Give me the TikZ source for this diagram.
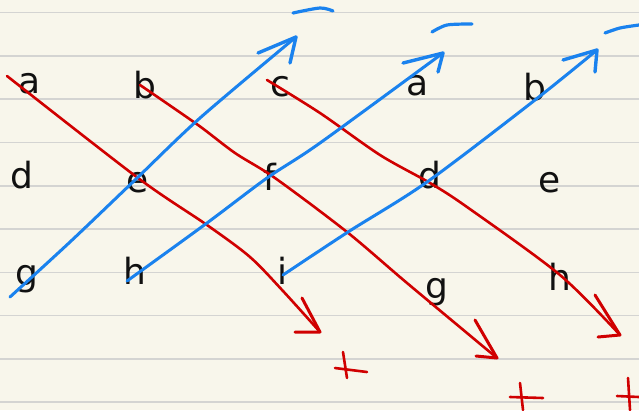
\documentclass[tikz,border=0pt]{standalone}
\usepackage{fontspec}
\setmainfont{DejaVu Sans}
\definecolor{paper}{HTML}{F8F6EB}
\definecolor{rulegray}{HTML}{D4D4D2}
\definecolor{penred}{HTML}{D00000}
\definecolor{penblue}{HTML}{1A82EE}
\definecolor{ink}{HTML}{111111}
\begin{document}
\begin{tikzpicture}[x=1pt,y=-1pt, line cap=round, line join=round,
  letter/.style={font=\fontsize{36}{36}\selectfont, text=ink, anchor=base, inner sep=0pt},
  redpen/.style={draw=penred, line width=2.6pt},
  bluepen/.style={draw=penblue, line width=3pt},
  ruleline/.style={draw=rulegray, line width=1.6pt}]
% paper
\fill[paper] (0,0) rectangle (639,410);
\useasboundingbox (0,0) rectangle (639,410);
\foreach \k in {0,...,9} {
  \draw[ruleline] (0,{12.5+43.3*\k}) -- (639,{12.5+43.3*\k});
}
% letters
\node[letter] (a1) at (30,93) {a};
\node[letter] (b1) at (145,98) {b};
\node[letter] (c1) at (280,96) {c};
\node[letter] (a2) at (418,95) {a};
\node[letter] (b2) at (535,100) {b};
\node[letter] (d1) at (22,188) {d};
\node[letter] (e1) at (138,192) {e};
\node[letter] (f1) at (270,190) {f};
\node[letter] (d2) at (430,188) {d};
\node[letter] (e2) at (550,192) {e};
\node[letter] (g1) at (27,285) {g};
\node[letter] (h1) at (135,284) {h};
\node[letter] (i1) at (282,284) {i};
\node[letter] (g2) at (437,298) {g};
\node[letter] (h2) at (560,290) {h};
% waypoints red
\coordinate (r1s) at (7,76); \coordinate (r1b) at (138,178); \coordinate (r1c) at (207,225); \coordinate (r1d) at (250,257); \coordinate (r1e) at (283,291); \coordinate (r1t) at (320,332);
\coordinate (r2s) at (140,85); \coordinate (r2a) at (198,125); \coordinate (r2b) at (235,153); \coordinate (r2c) at (275,178); \coordinate (r2d) at (347,232); \coordinate (r2e) at (407,283); \coordinate (r2t) at (497,358);
\coordinate (r3s) at (267,80); \coordinate (r3a) at (320,113); \coordinate (r3b) at (380,155); \coordinate (r3c) at (430,183); \coordinate (r3d) at (467,207); \coordinate (r3e) at (560,275); \coordinate (r3t) at (620,335);
% waypoints blue
\coordinate (b1s) at (10,297); \coordinate (b1a) at (70,242); \coordinate (b1b) at (135,180); \coordinate (b1c) at (200,118); \coordinate (b1t) at (296,37);
\coordinate (b2s) at (127,281); \coordinate (b2a) at (207,223); \coordinate (b2b) at (267,178); \coordinate (b2c) at (320,143); \coordinate (b2t) at (443,53);
\coordinate (b3s) at (283,275); \coordinate (b3a) at (348,232); \coordinate (b3b) at (427,182); \coordinate (b3c) at (535,100); \coordinate (b3t) at (597,50);
% red diagonals
\draw[redpen] plot[smooth, tension=0.5] coordinates {(r1s) (r1b) (r1c) (r1d) (r1e) (r1t)};
\draw[redpen] plot[smooth, tension=0.5] coordinates {(r2s) (r2a) (r2b) (r2c) (r2d) (r2e) (r2t)};
\draw[redpen] plot[smooth, tension=0.5] coordinates {(r3s) (r3a) (r3b) (r3c) (r3d) (r3e) (r3t)};
% red arrowheads
\draw[redpen, line width=3pt] (302,298) -- (r1t) -- (295,332);
\draw[redpen, line width=3pt] (475,320) -- (r2t) -- (476,356);
\draw[redpen, line width=3pt] (595,295) -- (r3t) -- (598,337);
% blue diagonals
\draw[bluepen] plot[smooth, tension=0.5] coordinates {(b1s) (b1a) (b1b) (b1c) (b1t)};
\draw[bluepen] plot[smooth, tension=0.5] coordinates {(b2s) (b2a) (b2b) (b2c) (b2t)};
\draw[bluepen] plot[smooth, tension=0.5] coordinates {(b3s) (b3a) (b3b) (b3c) (b3t)};
% blue arrowheads
\draw[bluepen, line width=3.4pt] (258,53) -- (b1t) -- (290,63);
\draw[bluepen, line width=3.4pt] (403,63) -- (b2t) -- (438,72);
\draw[bluepen, line width=3.4pt] (563,60) -- (b3t) -- (595,72);
% minus signs
\draw[bluepen, line width=3.2pt] plot[smooth] coordinates {(293,13) (320,8) (333,11)};
\draw[bluepen, line width=3.2pt] plot[smooth] coordinates {(432,32) (447,25) (472,24)};
\draw[bluepen, line width=3.2pt] plot[smooth] coordinates {(605,33) (620,28) (639,25)};
% plus signs
\draw[redpen] (335,368) -- (367,372); \draw[redpen] (343,352) -- (347,378);
\draw[redpen] (510,397) -- (543,398); \draw[redpen] (520,383) -- (523,410);
\draw[redpen] (617,396) -- (639,397); \draw[redpen] (628,378) -- (630,410);
\end{tikzpicture}
\end{document}
